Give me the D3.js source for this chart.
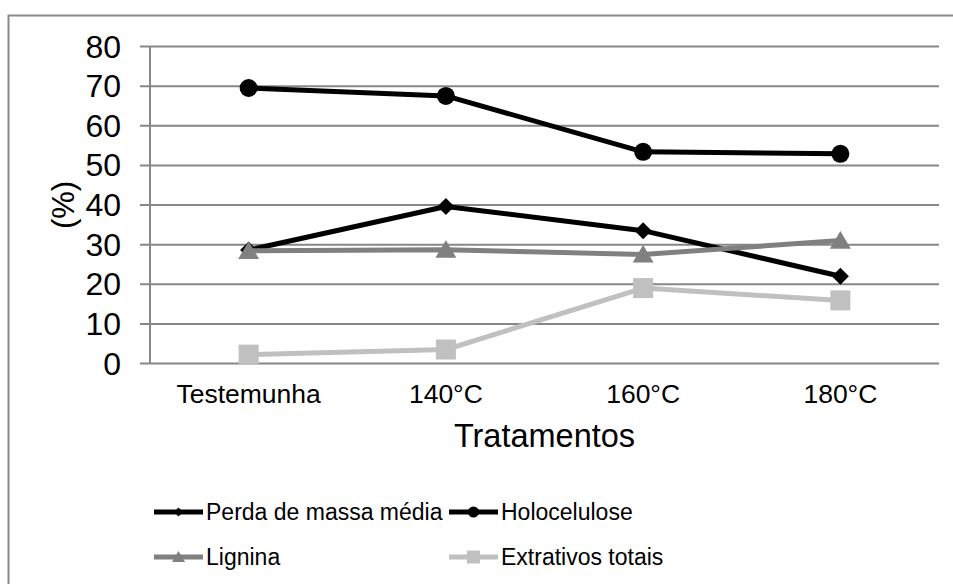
<!DOCTYPE html>
<html>
<head>
<meta charset="utf-8">
<script src="https://cdn.jsdelivr.net/npm/d3@7"></script>
<style>
  html, body { margin: 0; padding: 0; background: #fff; }
  svg { display: block; font-family: "Liberation Sans", Arial, sans-serif; }
</style>
</head>
<body>
<svg id="chart" width="953" height="584"></svg>
<script>
// Treatments on the category axis
const categories = ["Testemunha", "140°C", "160°C", "180°C"];

// Series values (%)
const perdaMassa    = [28.5, 39.5, 33.4, 21.9];
const holocelulose  = [69.4, 67.4, 53.3, 52.8];
const lignina       = [28.3, 28.6, 27.4, 30.9];
const extrativos    = [2.1, 3.4, 18.9, 15.8];

const seriesNames = ["Perda de massa média", "Holocelulose", "Lignina", "Extrativos totais"];
const yTicks = [0, 10, 20, 30, 40, 50, 60, 70, 80];
const xTitle = "Tratamentos";
const yTitle = "(%)";

const series = [
  { name: seriesNames[0], values: perdaMassa,   color: "#000000", marker: "diamond"  },
  { name: seriesNames[1], values: holocelulose, color: "#000000", marker: "circle"   },
  { name: seriesNames[2], values: lignina,      color: "#808080", marker: "triangle" },
  { name: seriesNames[3], values: extrativos,   color: "#c0c0c0", marker: "square"   }
];

const svg = d3.select("#chart");
const gridColor = "#878787";

// Chart frame
svg.append("rect")
  .attr("x", 8.5).attr("y", 15.5)
  .attr("width", 960).attr("height", 600)
  .attr("fill", "#fff").attr("stroke", "#898989").attr("stroke-width", 2);

const plot = { left: 150, right: 939, top: 46, bottom: 363 };

const x = d3.scaleBand().domain(categories).range([plot.left, plot.right]);
const y = d3.scaleLinear().domain([0, 80]).range([plot.bottom, plot.top]);

// Horizontal gridlines, starting at the short tick marks left of the axis
const yAxis = d3.axisRight(y)
  .tickValues(yTicks)
  .tickFormat("")
  .tickSize(plot.right - plot.left + 10)
  .tickSizeOuter(0);

const gy = svg.append("g")
  .attr("transform", `translate(${plot.left - 10},0)`)
  .call(yAxis);
gy.select(".domain").remove();
gy.selectAll(".tick line")
  .attr("stroke", gridColor).attr("stroke-width", 2);

// Y tick labels
svg.append("g").selectAll("text")
  .data(yTicks).join("text")
  .attr("x", 121).attr("y", d => y(d))
  .attr("dy", "0.36em")
  .attr("text-anchor", "end")
  .attr("font-size", 32)
  .attr("fill", "#000")
  .text(d => d);

// Vertical value axis line
svg.append("line")
  .attr("x1", plot.left).attr("x2", plot.left)
  .attr("y1", plot.top).attr("y2", plot.bottom)
  .attr("stroke", gridColor).attr("stroke-width", 2);

// Category labels
const xAxis = d3.axisBottom(x).tickSize(0).tickPadding(0);
const gx = svg.append("g")
  .attr("transform", `translate(0,${plot.bottom})`)
  .call(xAxis);
gx.select(".domain").remove();
gx.selectAll(".tick text")
  .attr("y", 40).attr("dy", 0)
  .attr("font-size", 26.5)
  .attr("font-family", "Liberation Sans, Arial, sans-serif")
  .attr("fill", "#000");

// Axis titles
svg.append("text")
  .attr("x", (plot.left + plot.right) / 2).attr("y", 447)
  .attr("text-anchor", "middle")
  .attr("font-size", 32.5)
  .text(xTitle);

svg.append("text")
  .attr("transform", "translate(74,205) rotate(-90)")
  .attr("text-anchor", "middle")
  .attr("font-size", 31)
  .text(yTitle);

// Marker shapes
function markerPath(type, s) {
  switch (type) {
    case "diamond":  return `M0,${-s}L${s},0L0,${s}L${-s},0Z`;
    case "triangle": return `M0,${-s}L${s * 1.1},${s * 0.85}L${-s * 1.1},${s * 0.85}Z`;
    case "square":   return `M${-s},${-s}H${s}V${s}H${-s}Z`;
    default:         return d3.symbol(d3.symbolCircle, Math.PI * s * s)();
  }
}
const markerSize = { diamond: 8.5, circle: 9, triangle: 9.5, square: 10 };
const legendMarkerSize = { diamond: 4.5, circle: 5.5, triangle: 6, square: 6.5 };

const line = d3.line()
  .x((d, i) => x(categories[i]) + x.bandwidth() / 2)
  .y(d => y(d));

series.forEach(s => {
  const g = svg.append("g");
  g.append("path")
    .attr("d", line(s.values))
    .attr("fill", "none")
    .attr("stroke", s.color)
    .attr("stroke-width", 5)
    .attr("stroke-linejoin", "round");
  g.selectAll("path.marker")
    .data(s.values).join("path")
    .attr("class", "marker")
    .attr("transform", (d, i) => `translate(${x(categories[i]) + x.bandwidth() / 2},${y(d)})`)
    .attr("d", markerPath(s.marker, markerSize[s.marker]))
    .attr("fill", s.color);
});

// Legend: two columns, two rows
const legendPos = [
  { x: 154, y: 512 }, { x: 449, y: 512 },
  { x: 154, y: 557 }, { x: 449, y: 557 }
];
series.forEach((s, i) => {
  const p = legendPos[i];
  const g = svg.append("g").attr("transform", `translate(${p.x},${p.y})`);
  g.append("line")
    .attr("x1", 0).attr("x2", 49)
    .attr("stroke", s.color).attr("stroke-width", 5);
  g.append("path")
    .attr("transform", "translate(24.5,0)")
    .attr("d", markerPath(s.marker, legendMarkerSize[s.marker]))
    .attr("fill", s.color);
  g.append("text")
    .attr("x", 52).attr("y", 0).attr("dy", "0.35em")
    .attr("font-size", 23)
    .attr("fill", "#000")
    .text(s.name);
});
</script>
</body>
</html>
